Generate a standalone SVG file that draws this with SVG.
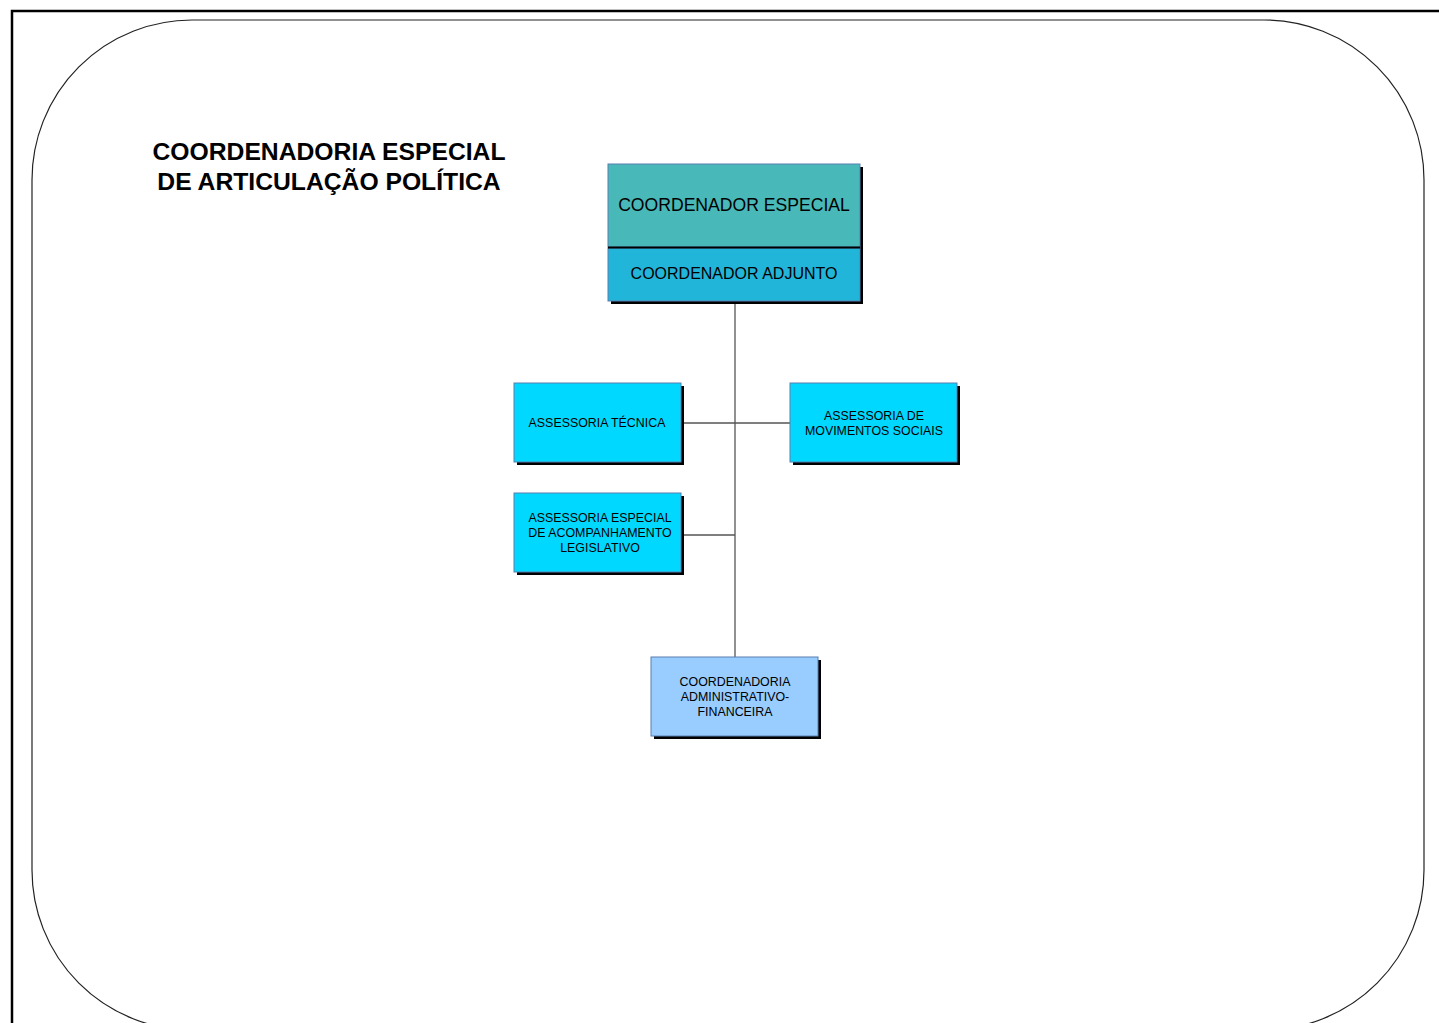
<svg xmlns="http://www.w3.org/2000/svg" width="1439" height="1023" viewBox="0 0 1439 1023">
<style>
.box{stroke:#5a7fb0;stroke-width:1}
.sh{fill:#000}
.t{font-family:"Liberation Sans",Arial,sans-serif;fill:#000;text-anchor:middle}
.s{font-size:12.4px}
.con{stroke:#555;stroke-width:1.3;fill:none}
</style>
<rect width="1439" height="1023" fill="#fff"/>
<path d="M12 1023 V11 H1439" fill="none" stroke="#000" stroke-width="2.5"/>
<rect x="32" y="20" width="1392" height="1010" rx="160" ry="160" fill="none" stroke="#222" stroke-width="1.2"/>
<g id="title">
<text class="t" x="329" y="160" font-size="24.7" font-weight="bold">COORDENADORIA ESPECIAL</text>
<text class="t" x="329" y="190" font-size="24.7" font-weight="bold">DE ARTICULAÇÃO POLÍTICA</text>
</g>
<g id="connectors">
<line class="con" x1="735" y1="303" x2="735" y2="657"/>
<line class="con" x1="682" y1="423" x2="790" y2="423"/>
<line class="con" x1="682" y1="535" x2="735" y2="535"/>
</g>
<g id="coordenador">
<rect class="sh" x="611" y="167" width="252" height="137"/>
<rect class="box" x="608" y="164" width="252" height="83" fill="#48B8B8"/>
<rect class="box" x="608" y="248" width="252" height="53" fill="#22B5DA"/>
<line x1="608" y1="247.5" x2="860" y2="247.5" stroke="#000" stroke-width="2"/>
<text class="t" x="734" y="211" font-size="17.6">COORDENADOR ESPECIAL</text>
<text class="t" x="734" y="279" font-size="16">COORDENADOR ADJUNTO</text>
</g>
<g id="assessoria-tecnica">
<rect class="sh" x="517" y="386" width="167" height="79"/>
<rect class="box" x="514" y="383" width="167" height="79" fill="#00D8FF"/>
<text class="t s" x="597" y="427">ASSESSORIA TÉCNICA</text>
</g>
<g id="assessoria-movimentos">
<rect class="sh" x="793" y="386" width="167" height="79"/>
<rect class="box" x="790" y="383" width="167" height="79" fill="#00D8FF"/>
<text class="t s" x="874" y="420">ASSESSORIA DE</text>
<text class="t s" x="874" y="435">MOVIMENTOS SOCIAIS</text>
</g>
<g id="assessoria-especial">
<rect class="sh" x="517" y="496" width="167" height="79"/>
<rect class="box" x="514" y="493" width="167" height="79" fill="#00D8FF"/>
<text class="t s" x="600" y="522">ASSESSORIA ESPECIAL</text>
<text class="t s" x="600" y="537">DE ACOMPANHAMENTO</text>
<text class="t s" x="600" y="552">LEGISLATIVO</text>
</g>
<g id="coordenadoria-adm">
<rect class="sh" x="654" y="660" width="167" height="79"/>
<rect class="box" x="651" y="657" width="167" height="79" fill="#99CCFF"/>
<text class="t s" x="735" y="686">COORDENADORIA</text>
<text class="t s" x="735" y="701">ADMINISTRATIVO-</text>
<text class="t s" x="735" y="716">FINANCEIRA</text>
</g>
</svg>
